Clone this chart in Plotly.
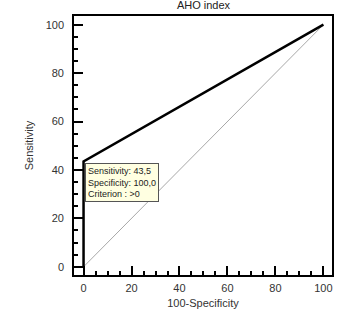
import plotly.graph_objects as go

# Data
roc_fpr = [0, 0, 100]          # 100-Specificity
roc_sens = [0, 43.5, 100]      # Sensitivity
diag_x = [0, 100]
diag_y = [0, 100]
tick_vals = [0, 20, 40, 60, 80, 100]
tooltip_lines = ["Sensitivity: 43,5", "Specificity: 100,0", "Criterion : >0"]
title_text = "AHO index"
x_title = "100-Specificity"
y_title = "Sensitivity"

FONT = "Liberation Sans, Arial, sans-serif"

fig = go.Figure()
fig.add_trace(go.Scatter(x=diag_x, y=diag_y, mode="lines",
                         line=dict(color="#a8a8a8", width=1), hoverinfo="skip"))
fig.add_trace(go.Scatter(x=roc_fpr, y=roc_sens, mode="lines",
                         line=dict(color="black", width=2.5), hoverinfo="skip"))

fig.add_annotation(x=0, y=roc_sens[1], xref="x", yref="y",
                   text="<br>".join(tooltip_lines), showarrow=False,
                   xanchor="left", yanchor="top", align="left",
                   xshift=1, yshift=-2,
                   bgcolor="#ffffe1", bordercolor="#555555", borderwidth=1, borderpad=2,
                   font=dict(family=FONT, size=9, color="#222222"))

# plot frame
fig.add_shape(type="rect", xref="paper", yref="paper", x0=0, x1=1, y0=0, y1=1,
              line=dict(color="black", width=2), layer="above")

axis_common = dict(
    showgrid=False, zeroline=False, automargin=False,
    showline=False,
    ticks="inside", ticklen=10, tickwidth=2, tickcolor="black",
    tickvals=tick_vals,
    minor=dict(ticks="inside", dtick=5, ticklen=5, tickwidth=1.5, tickcolor="black"),
    tickfont=dict(family=FONT, size=11, color="#333333"),
)

fig.update_layout(
    width=342, height=320,
    margin=dict(l=73, r=9, t=15, b=44),
    paper_bgcolor="white", plot_bgcolor="white",
    showlegend=False,
    title=dict(text=title_text, x=0.595, xanchor="center", y=1.0, yanchor="top",
               pad=dict(t=1),
               font=dict(family=FONT, size=11, color="#222222")),
    xaxis=dict(range=[-4.4, 104], title=dict(text=x_title, standoff=6,
               font=dict(family=FONT, size=11, color="#333333")),
               ticklabelstandoff=4, **axis_common),
    yaxis=dict(range=[-3.8, 104], title=dict(text=y_title, standoff=9,
               font=dict(family=FONT, size=11, color="#333333")),
               ticklabelstandoff=8, **axis_common),
)

# remove the default 8px page margin so the figure sits at the window corner
fig.write_html("out.html", config={"displayModeBar": False},
               post_script="document.body.style.margin='0';")
